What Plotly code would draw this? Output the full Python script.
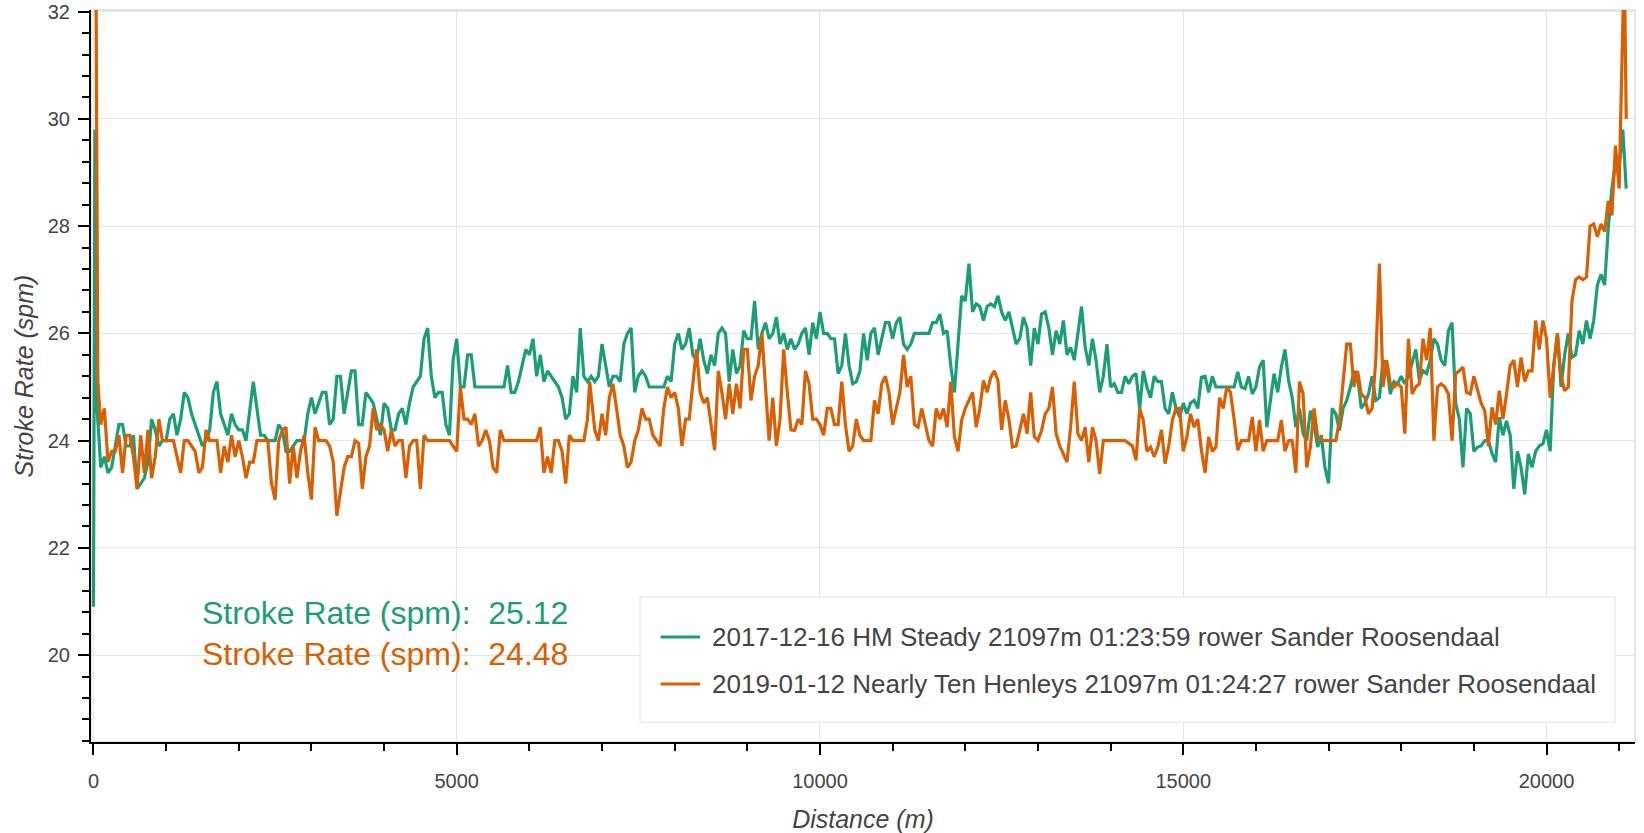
import plotly.graph_objects as go

# 2017-12-16 HM Steady
green_dist = [0, 20, 50, 100, 150, 200, 250, 300, 350, 400,
              450, 500, 550, 600, 650, 700, 750, 800, 850, 900,
              950, 1000, 1050, 1100, 1150, 1200, 1250, 1300, 1350, 1400,
              1450, 1500, 1550, 1600, 1650, 1700, 1750, 1800, 1850, 1900,
              1950, 2000, 2050, 2100, 2150, 2200, 2250, 2300, 2350, 2400,
              2450, 2500, 2550, 2600, 2650, 2700, 2750, 2800, 2850, 2900,
              2950, 3000, 3050, 3100, 3150, 3200, 3250, 3300, 3350, 3400,
              3450, 3500, 3550, 3600, 3650, 3700, 3750, 3800, 3850, 3900,
              3950, 4000, 4050, 4100, 4150, 4200, 4250, 4300, 4350, 4400,
              4450, 4500, 4550, 4600, 4650, 4700, 4750, 4800, 4850, 4900,
              4950, 5000, 5050, 5100, 5150, 5200, 5250, 5300, 5400, 5500,
              5600, 5650, 5700, 5750, 5800, 5850, 5900, 5950, 6000, 6050,
              6100, 6150, 6200, 6250, 6300, 6350, 6400, 6450, 6500, 6550,
              6600, 6650, 6700, 6750, 6800, 6850, 6900, 6950, 7000, 7050,
              7100, 7150, 7200, 7250, 7300, 7350, 7400, 7450, 7500, 7550,
              7600, 7650, 7700, 7750, 7800, 7850, 7900, 7950, 8000, 8050,
              8100, 8150, 8200, 8250, 8300, 8350, 8400, 8450, 8500, 8550,
              8600, 8650, 8700, 8750, 8800, 8850, 8900, 8950, 9000, 9050,
              9100, 9150, 9200, 9250, 9300, 9350, 9400, 9450, 9500, 9550,
              9600, 9650, 9700, 9750, 9800, 9850, 9900, 9950, 10000, 10050,
              10100, 10150, 10200, 10250, 10300, 10350, 10400, 10450, 10500, 10550,
              10600, 10650, 10700, 10750, 10800, 10850, 10900, 10950, 11000, 11050,
              11100, 11150, 11200, 11250, 11300, 11350, 11400, 11450, 11500, 11550,
              11600, 11650, 11700, 11750, 11800, 11850, 11900, 11950, 12000, 12050,
              12100, 12150, 12200, 12250, 12300, 12350, 12400, 12450, 12500, 12550,
              12600, 12650, 12700, 12750, 12800, 12850, 12900, 12950, 13000, 13050,
              13100, 13150, 13200, 13250, 13300, 13350, 13400, 13450, 13500, 13550,
              13600, 13650, 13700, 13750, 13800, 13850, 13900, 13950, 14000, 14050,
              14100, 14150, 14200, 14250, 14300, 14350, 14400, 14450, 14500, 14550,
              14600, 14650, 14700, 14750, 14800, 14850, 14900, 14950, 15000, 15050,
              15100, 15150, 15200, 15250, 15300, 15350, 15400, 15450, 15500, 15550,
              15600, 15650, 15700, 15750, 15800, 15850, 15900, 15950, 16000, 16050,
              16100, 16150, 16200, 16250, 16300, 16350, 16400, 16450, 16500, 16550,
              16600, 16650, 16700, 16750, 16800, 16850, 16900, 16950, 17000, 17050,
              17100, 17150, 17200, 17250, 17300, 17350, 17400, 17450, 17500, 17550,
              17600, 17650, 17700, 17750, 17800, 17850, 17900, 17950, 18000, 18050,
              18100, 18150, 18200, 18250, 18300, 18350, 18400, 18450, 18500, 18550,
              18600, 18650, 18700, 18750, 18800, 18850, 18900, 18950, 19000, 19050,
              19100, 19150, 19200, 19250, 19300, 19350, 19400, 19450, 19500, 19550,
              19600, 19650, 19700, 19750, 19800, 19850, 19900, 19950, 20000, 20050,
              20100, 20150, 20200, 20250, 20300, 20350, 20400, 20450, 20500, 20550,
              20600, 20650, 20700, 20750, 20800, 20850, 20900, 20950, 21000, 21050,
              21097]
green_spm = [20.9, 29.8, 24.6, 23.5, 23.7, 23.4, 23.5, 23.9, 24.3, 24.3,
             23.9, 23.9, 24.1, 23.1, 23.2, 23.3, 23.6, 24.4, 24.2, 23.9,
             24.0, 24.0, 24.4, 24.5, 24.1, 24.4, 24.9, 24.8, 24.5, 24.3,
             24.1, 23.9, 24.0, 24.2, 24.9, 25.1, 24.5, 24.3, 24.1, 24.5,
             24.3, 24.2, 24.2, 24.0, 24.6, 25.1, 24.6, 24.1, 24.1, 24.0,
             24.0, 24.0, 24.3, 24.2, 23.8, 23.8, 23.9, 24.0, 24.0, 24.0,
             24.5, 24.8, 24.5, 24.7, 24.9, 24.9, 24.3, 24.4, 25.2, 25.2,
             24.5, 24.9, 25.3, 25.3, 24.3, 24.3, 24.9, 24.8, 24.7, 24.4,
             24.1, 24.7, 24.6, 24.2, 24.2, 24.5, 24.6, 24.3, 24.7, 25.0,
             25.1, 25.2, 25.9, 26.1, 25.2, 24.8, 24.9, 24.9, 24.3, 24.1,
             25.5, 25.9, 25.0, 25.0, 25.6, 25.6, 25.0, 25.0, 25.0, 25.0,
             25.0, 25.0, 25.4, 24.9, 24.9, 25.1, 25.4, 25.7, 25.6, 25.9,
             25.2, 25.6, 25.1, 25.3, 25.2, 25.1, 25.0, 24.8, 24.4, 24.5,
             25.2, 24.9, 26.1, 25.2, 25.1, 25.2, 25.1, 25.2, 25.8, 25.4,
             25.0, 25.2, 25.2, 25.1, 25.8, 26.0, 26.1, 24.9, 25.2, 25.3,
             25.2, 25.0, 25.0, 25.0, 25.0, 25.0, 25.2, 25.1, 25.8, 26.0,
             25.7, 25.8, 26.1, 25.6, 25.5, 25.9, 25.5, 25.25, 25.6, 25.4,
             26.0, 26.1, 26.0, 25.1, 25.7, 25.25, 25.4, 26.05, 25.9, 25.9,
             26.6, 25.7, 26.0, 26.2, 25.9, 26.0, 26.3, 25.8, 26.0, 25.7,
             25.9, 25.7, 25.8, 26.0, 26.1, 25.6, 26.2, 25.9, 26.4, 26.0,
             26.0, 25.9, 25.9, 25.25, 25.4, 26.0, 25.4, 25.06, 25.1, 25.3,
             26.0, 25.5, 26.0, 26.1, 25.6, 25.9, 26.2, 26.2, 25.9, 26.2,
             26.3, 25.8, 25.7, 25.8, 26.0, 26.0, 26.0, 26.0, 26.0, 26.2,
             26.2, 26.36, 26.0, 26.05, 25.4, 24.9, 25.9, 26.7, 26.6, 27.3,
             26.4, 26.55, 26.5, 26.24, 26.5, 26.55, 26.5, 26.7, 26.4, 26.24,
             26.4, 26.1, 25.8, 25.9, 26.3, 26.1, 25.4, 26.1, 25.8, 26.36,
             26.4, 26.1, 25.6, 26.05, 25.8, 26.24, 25.6, 25.74, 25.5, 26.0,
             26.5, 25.74, 25.4, 25.9, 25.5, 24.9, 25.2, 25.8, 25.0, 25.06,
             24.9, 24.9, 25.2, 25.06, 25.2, 25.25, 24.6, 25.3, 25.0, 24.8,
             25.2, 25.1, 25.1, 24.6, 24.5, 24.9, 24.6, 24.44, 24.7, 24.5,
             24.7, 24.75, 24.6, 25.18, 25.2, 24.9, 25.2, 25.0, 25.0, 25.0,
             25.0, 25.0, 25.0, 25.28, 25.0, 24.97, 25.2, 24.87, 25.0, 25.37,
             25.5, 24.25, 24.8, 25.25, 24.9, 25.37, 25.7, 25.12, 24.8, 24.25,
             24.6, 24.13, 24.0, 24.56, 24.3, 23.88, 24.1, 23.5, 23.2, 24.6,
             24.5, 24.19, 24.6, 24.75, 25.0, 25.3, 25.2, 24.6, 24.7, 24.87,
             25.2, 24.75, 24.8, 25.5, 25.4, 24.87, 25.1, 25.06, 25.2, 25.06,
             25.2, 25.43, 25.7, 25.12, 25.3, 25.25, 25.5, 25.9, 25.8, 25.5,
             25.4, 26.05, 26.2, 24.7, 24.4, 23.5, 24.6, 24.5, 23.8, 23.88,
             23.9, 24.0, 24.0, 23.76, 23.6, 24.44, 24.1, 24.37, 24.1, 23.1,
             23.8, 23.5, 23.0, 23.75, 23.5, 23.8, 23.9, 23.94, 24.2, 23.8,
             25.4, 26.0, 25.0, 25.6, 26.0, 25.55, 25.6, 26.05, 25.8, 26.24,
             25.9, 26.24, 26.9, 27.1, 26.9, 27.97, 28.7, 29.2, 29.1, 29.8,
             28.7]

# 2019-01-12 Nearly Ten Henleys
orange_dist = [0, 30, 60, 100, 150, 200, 250, 300, 350, 400,
               450, 500, 550, 600, 650, 700, 750, 800, 850, 900,
               950, 1000, 1050, 1100, 1150, 1200, 1250, 1300, 1350, 1400,
               1450, 1500, 1550, 1600, 1650, 1700, 1750, 1800, 1850, 1900,
               1950, 2000, 2050, 2100, 2150, 2200, 2250, 2300, 2350, 2400,
               2450, 2500, 2550, 2600, 2650, 2700, 2750, 2800, 2850, 2900,
               2950, 3000, 3050, 3100, 3150, 3200, 3250, 3300, 3350, 3400,
               3450, 3500, 3550, 3600, 3650, 3700, 3750, 3800, 3850, 3900,
               3950, 4000, 4050, 4100, 4150, 4200, 4250, 4300, 4350, 4400,
               4450, 4500, 4550, 4600, 4700, 4800, 4900, 5000, 5050, 5100,
               5150, 5200, 5250, 5300, 5350, 5400, 5450, 5500, 5550, 5600,
               5650, 5700, 5800, 5900, 6000, 6100, 6150, 6200, 6250, 6300,
               6350, 6400, 6450, 6500, 6550, 6600, 6650, 6700, 6750, 6800,
               6830, 6900, 6950, 7000, 7050, 7100, 7150, 7200, 7250, 7300,
               7350, 7400, 7450, 7500, 7550, 7600, 7650, 7700, 7750, 7800,
               7850, 7900, 7950, 8000, 8050, 8100, 8150, 8200, 8250, 8300,
               8350, 8400, 8450, 8500, 8550, 8600, 8650, 8700, 8750, 8800,
               8850, 8900, 8950, 9000, 9050, 9100, 9150, 9200, 9250, 9300,
               9350, 9400, 9450, 9500, 9550, 9600, 9650, 9700, 9750, 9800,
               9850, 9900, 9950, 10000, 10050, 10100, 10150, 10200, 10250, 10300,
               10350, 10400, 10450, 10500, 10550, 10600, 10650, 10700, 10750, 10800,
               10850, 10900, 10950, 11000, 11050, 11100, 11150, 11200, 11250, 11300,
               11350, 11400, 11450, 11500, 11550, 11600, 11650, 11700, 11750, 11800,
               11850, 11900, 11950, 12000, 12050, 12100, 12150, 12200, 12250, 12300,
               12350, 12400, 12450, 12500, 12550, 12600, 12650, 12700, 12750, 12800,
               12850, 12900, 12950, 13000, 13050, 13100, 13150, 13200, 13250, 13300,
               13350, 13400, 13450, 13500, 13550, 13600, 13650, 13700, 13750, 13800,
               13850, 13900, 14000, 14100, 14200, 14300, 14350, 14400, 14450, 14500,
               14550, 14600, 14650, 14700, 14750, 14800, 14850, 14900, 14950, 15000,
               15050, 15100, 15150, 15200, 15250, 15300, 15350, 15400, 15450, 15500,
               15550, 15600, 15650, 15700, 15750, 15800, 15850, 15900, 15950, 16000,
               16050, 16100, 16150, 16200, 16250, 16300, 16350, 16400, 16450, 16500,
               16550, 16600, 16650, 16700, 16750, 16800, 16850, 16900, 17000, 17100,
               17150, 17200, 17250, 17300, 17350, 17400, 17450, 17500, 17550, 17600,
               17650, 17700, 17750, 17800, 17850, 17900, 17950, 18000, 18050, 18100,
               18150, 18200, 18250, 18300, 18350, 18400, 18450, 18500, 18550, 18600,
               18650, 18700, 18750, 18800, 18850, 18900, 18950, 19000, 19050, 19100,
               19150, 19200, 19250, 19300, 19350, 19400, 19450, 19500, 19550, 19600,
               19650, 19700, 19750, 19800, 19850, 19900, 19950, 20000, 20050, 20100,
               20150, 20200, 20250, 20300, 20350, 20400, 20450, 20500, 20550, 20600,
               20650, 20700, 20750, 20800, 20850, 20900, 20950, 21000, 21040, 21070,
               21097]
orange_spm = [36.0, 34.0, 25.1, 24.3, 24.6, 23.6, 23.8, 23.8, 24.1, 23.4,
              24.1, 24.1, 23.7, 23.1, 24.1, 23.4, 24.2, 23.3, 23.7, 24.4,
              24.0, 24.0, 24.0, 24.0, 23.7, 23.4, 24.0, 24.0, 23.9, 23.8,
              23.4, 23.5, 24.2, 24.0, 24.0, 24.0, 23.4, 23.9, 23.6, 24.1,
              23.7, 24.0, 23.7, 23.3, 23.6, 23.6, 24.0, 24.0, 24.0, 24.0,
              23.2, 22.9, 24.0, 24.2, 24.25, 23.2, 23.9, 23.3, 23.8, 24.1,
              23.4, 22.9, 24.25, 24.0, 24.0, 24.0, 23.9, 23.6, 22.6, 23.1,
              23.5, 23.7, 23.7, 24.0, 23.95, 23.1, 23.7, 23.9, 24.6, 24.2,
              24.3, 24.2, 23.8, 24.2, 23.9, 24.0, 24.0, 23.3, 23.9, 24.0,
              24.0, 23.1, 24.1, 24.0, 24.0, 24.0, 24.0, 23.8, 25.0, 24.4,
              24.4, 24.3, 24.5, 23.9, 24.0, 24.2, 24.0, 23.5, 23.4, 24.2,
              24.0, 24.0, 24.0, 24.0, 24.0, 24.0, 24.25, 23.4, 23.7, 23.4,
              24.0, 24.0, 23.8, 23.2, 24.1, 24.0, 24.0, 24.0, 24.0, 24.4,
              25.1, 24.2, 24.0, 24.5, 24.1, 24.8, 25.06, 24.6, 24.1, 23.9,
              23.5, 23.6, 24.0, 24.2, 24.6, 24.4, 24.4, 24.1, 24.0, 23.9,
              24.6, 25.0, 24.8, 24.9, 24.6, 23.9, 24.4, 24.4, 25.06, 25.7,
              24.9, 24.7, 24.8, 24.3, 23.82, 25.3, 24.9, 24.4, 25.06, 24.5,
              25.06, 24.6, 25.7, 25.7, 24.75, 25.2, 25.4, 26.0, 24.9, 24.0,
              24.8, 23.9, 24.4, 25.7, 24.9, 24.2, 24.19, 24.4, 24.3, 25.3,
              25.06, 24.4, 24.4, 24.3, 24.1, 24.6, 24.6, 24.3, 24.3, 25.1,
              24.3, 23.8, 23.9, 24.4, 24.1, 24.0, 24.0, 24.0, 24.75, 24.5,
              25.06, 25.2, 24.9, 24.3, 24.6, 24.9, 25.6, 25.0, 25.2, 24.3,
              24.25, 24.6, 24.3, 24.0, 23.9, 24.6, 24.4, 24.6, 24.25, 25.1,
              24.07, 23.8, 24.38, 24.6, 24.75, 24.9, 24.25, 24.6, 25.12, 24.9,
              25.18, 25.3, 25.12, 24.2, 24.75, 24.4, 23.88, 23.9, 24.19, 24.5,
              24.13, 24.9, 24.07, 24.0, 24.19, 24.5, 24.6, 25.0, 24.13, 23.9,
              23.75, 23.6, 24.25, 25.1, 24.13, 24.0, 24.25, 23.6, 24.25, 24.0,
              23.38, 24.0, 24.0, 24.0, 24.0, 23.9, 23.63, 24.6, 24.38, 23.8,
              23.88, 23.7, 23.88, 24.2, 23.57, 23.9, 24.38, 24.6, 24.6, 23.8,
              24.07, 24.5, 24.25, 24.4, 23.82, 23.4, 24.07, 23.8, 23.88, 24.8,
              24.6, 25.0, 24.9, 24.4, 23.82, 24.0, 24.0, 24.0, 24.44, 23.8,
              24.38, 23.8, 24.0, 24.0, 24.0, 24.0, 24.38, 23.8, 24.0, 24.0,
              23.4, 25.1, 24.87, 23.5, 23.88, 24.6, 24.07, 24.0, 24.0, 24.0,
              24.38, 25.1, 25.8, 25.8, 25.0, 25.3, 24.87, 24.8, 24.5, 24.6,
              25.5, 27.3, 25.0, 25.5, 25.06, 25.0, 25.06, 25.0, 24.13, 25.9,
              24.87, 25.0, 25.06, 25.9, 25.5, 26.1, 24.0, 25.0, 25.06, 25.0,
              24.87, 24.0, 25.25, 25.3, 25.37, 24.9, 24.87, 25.2, 24.93, 24.7,
              24.56, 23.9, 24.62, 24.3, 24.93, 24.4, 24.87, 25.4, 25.5, 25.0,
              25.55, 25.1, 25.3, 25.3, 26.24, 25.7, 26.24, 25.9, 24.8, 25.4,
              26.0, 25.2, 24.93, 25.0, 26.6, 27.0, 27.05, 27.0, 27.05, 28.0,
              28.04, 27.8, 28.04, 27.9, 28.47, 28.2, 29.5, 28.7, 31.6, 33.0,
              30.0]

series_names = ["2017-12-16 HM Steady 21097m 01:23:59 rower Sander Roosendaal",
                "2019-01-12 Nearly Ten Henleys 21097m 01:24:27 rower Sander Roosendaal"]
series_means = [25.12, 24.48]
colors = ["#1b9e77", "#d95f02"]

font_family = "Liberation Sans, Arial, Helvetica, sans-serif"
text_grey = "#444444"
grid_grey = "#e5e5e5"

fig = go.Figure()
fig.add_trace(go.Scatter(x=green_dist, y=green_spm, mode="lines",
                         line=dict(color=colors[0], width=3.2),
                         name=series_names[0], showlegend=False))
fig.add_trace(go.Scatter(x=orange_dist, y=orange_spm, mode="lines",
                         line=dict(color=colors[1], width=3.2),
                         name=series_names[1], showlegend=False))

# plot outline (light grey frame)
fig.add_shape(type="rect", xref="paper", yref="paper", x0=0, x1=1, y0=0, y1=1,
              line=dict(color=grid_grey, width=2), layer="below")

# legend box drawn by hand
fig.add_shape(type="rect", xref="paper", yref="paper", x0=0.3556, x1=0.987,
              y0=0.027, y1=0.198, fillcolor="white",
              line=dict(color="#ebebeb", width=1.5), layer="above")
legend_rows = [0.1436, 0.0792]
for i in range(2):
    fig.add_shape(type="line", xref="paper", yref="paper", x0=0.3689, x1=0.3945,
                  y0=legend_rows[i], y1=legend_rows[i],
                  line=dict(color=colors[i], width=3), layer="above")
    fig.add_annotation(xref="paper", yref="paper", x=0.4006, y=legend_rows[i],
                       text=series_names[i], showarrow=False,
                       xanchor="left", yanchor="middle",
                       font=dict(family=font_family, size=26, color=text_grey))

# average labels
mean_rows = [0.176, 0.120]
for i in range(2):
    fig.add_annotation(xref="paper", yref="paper", x=0.0706, y=mean_rows[i],
                       text=f"Stroke Rate (spm):&nbsp;&nbsp;{series_means[i]:.2f}",
                       showarrow=False, xanchor="left", yanchor="middle",
                       font=dict(family=font_family, size=32, color=colors[i]))

fig.update_layout(
    width=1644, height=833,
    margin=dict(l=91, r=9, t=10, b=91),
    plot_bgcolor="white", paper_bgcolor="white",
    font=dict(family=font_family, color=text_grey),
)

fig.update_xaxes(
    range=[-34, 21218], tick0=0, dtick=5000, tickformat="d", automargin=False,
    showgrid=True, gridcolor=grid_grey, gridwidth=1, zeroline=False,
    showline=True, linecolor="black", linewidth=2,
    ticks="outside", ticklen=11, tickwidth=2, tickcolor="black",
    ticklabelstandoff=9,
    tickfont=dict(family=font_family, size=20, color=text_grey),
    minor=dict(ticks="outside", ticklen=7, tickwidth=2, tickcolor="black",
               dtick=1000, tick0=0, showgrid=False),
    title=dict(text="Distance (m)", standoff=19,
               font=dict(family=font_family, size=25, color=text_grey, style="italic")),
)
fig.update_yaxes(
    range=[18.38, 32.03], tick0=0, dtick=2, automargin=False,
    showgrid=True, gridcolor=grid_grey, gridwidth=1, zeroline=False,
    showline=True, linecolor="black", linewidth=2,
    ticks="outside", ticklen=11, tickwidth=2, tickcolor="black",
    ticklabelstandoff=4,
    tickfont=dict(family=font_family, size=20, color=text_grey),
    minor=dict(ticks="outside", ticklen=7, tickwidth=2, tickcolor="black",
               dtick=0.4, tick0=0, showgrid=False),
    title=dict(text="Stroke Rate (spm)", standoff=7,
               font=dict(family=font_family, size=25, color=text_grey, style="italic")),
)

# page body has a default 8px margin; drop it so the figure fills the window
fig.write_html("out.html", config={"displayModeBar": False},
               post_script="document.body.style.margin = '0';")
